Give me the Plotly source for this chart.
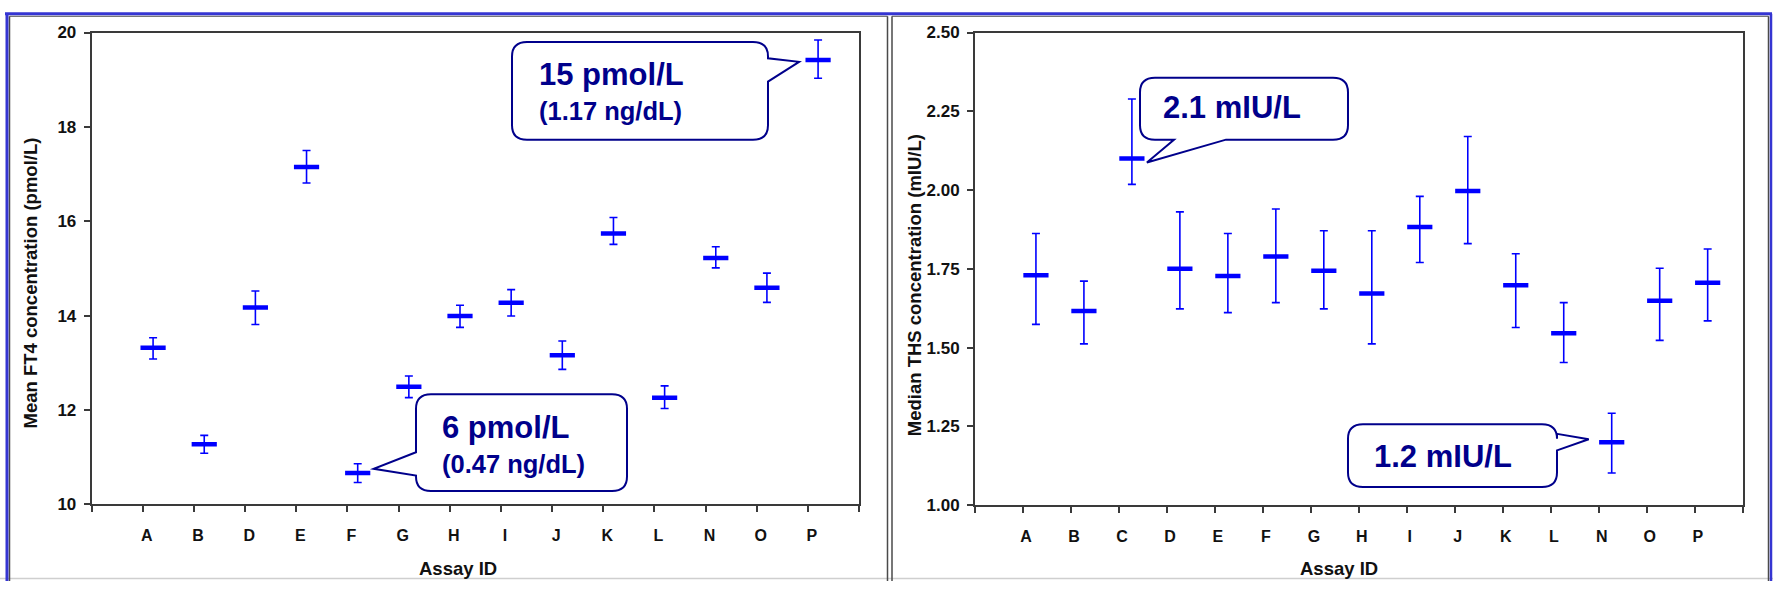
import plotly.graph_objects as go

W, H = 1773, 591

# ---- Panel 1: mean FT4 by assay (pmol/L), with error-bar limits ----
ft4_ids = ["A", "B", "D", "E", "F", "G", "H", "I", "J", "K", "L", "N", "O", "P"]
ft4_mean = [13.32, 11.27, 14.17, 17.15, 10.66, 12.49, 13.99, 14.27, 13.16, 15.74, 12.26, 15.22, 14.59, 19.42]
ft4_low = [13.08, 11.08, 13.81, 16.81, 10.46, 12.26, 13.75, 13.99, 12.86, 15.51, 12.03, 15.01, 14.28, 19.03]
ft4_high = [13.53, 11.46, 14.52, 17.50, 10.86, 12.72, 14.22, 14.55, 13.46, 16.08, 12.51, 15.46, 14.90, 19.84]

# ---- Panel 2: median TSH by assay (mIU/L), with error-bar limits ----
tsh_ids = ["A", "B", "C", "D", "E", "F", "G", "H", "I", "J", "K", "L", "N", "O", "P"]
tsh_median = [1.730, 1.616, 2.100, 1.750, 1.727, 1.789, 1.744, 1.672, 1.883, 1.997, 1.698, 1.546, 1.200, 1.649, 1.706]
tsh_low = [1.574, 1.512, 2.018, 1.623, 1.611, 1.643, 1.623, 1.512, 1.770, 1.830, 1.564, 1.453, 1.102, 1.523, 1.585]
tsh_high = [1.862, 1.711, 2.289, 1.931, 1.862, 1.940, 1.871, 1.871, 1.980, 2.170, 1.798, 1.643, 1.292, 1.752, 1.813]

ft4_ticks = [10, 12, 14, 16, 18, 20]
tsh_ticks = [1.00, 1.25, 1.50, 1.75, 2.00, 2.25, 2.50]

BLUE = "#0000FF"
NAVY = "#00008B"
AXIS = "#3a3a3a"
FONT = "Arial, Liberation Sans, sans-serif"

# plot-area boxes in pixels: left, right, bottom, top
LBOX = dict(x0=91.7, x1=859.0, yb=511.7, yt=24.3, xr=(0, len(ft4_ids) + 1), yr=(10, 20))
RBOX = dict(x0=975.0, x1=1742.7, yb=512.7, yt=24.3, xr=(0, len(tsh_ids) + 1), yr=(1.0, 2.5))
L_SHIFT = 0.20   # markers sit slightly right of their tick
R_SHIFT = 0.27


def px(x, y):
    return x / W, 1 - y / H


def data_px(box, xv, yv):
    fx = (xv - box["xr"][0]) / (box["xr"][1] - box["xr"][0])
    fy = (yv - box["yr"][0]) / (box["yr"][1] - box["yr"][0])
    return box["x0"] + fx * (box["x1"] - box["x0"]), box["yb"] + fy * (box["yt"] - box["yb"])


def callout_path(x0, y0, x1, y1, r, side, a, b, tip):
    pts = []

    def P(c, x, y):
        X, Y = px(x, y)
        pts.append(f"{c}{X:.5f},{Y:.5f}")

    def Q(cx, cy, x, y):
        CX, CY = px(cx, cy)
        X, Y = px(x, y)
        pts.append(f"Q{CX:.5f},{CY:.5f} {X:.5f},{Y:.5f}")

    P("M", x0 + r, y0)
    P("L", x1 - r, y0)
    Q(x1, y0, x1, y0 + r)
    if side == "right":
        P("L", x1, a)
        P("L", *tip)
        P("L", x1, b)
    P("L", x1, y1 - r)
    Q(x1, y1, x1 - r, y1)
    if side == "bottom":
        P("L", b, y1)
        P("L", *tip)
        P("L", a, y1)
    P("L", x0 + r, y1)
    Q(x0, y1, x0, y1 - r)
    if side == "left":
        P("L", x0, b)
        P("L", *tip)
        P("L", x0, a)
    P("L", x0, y0 + r)
    Q(x0, y0, x0 + r, y0)
    return " ".join(pts) + " Z"


fig = go.Figure()

fig.add_trace(go.Scatter(
    x=[i + 1 + L_SHIFT for i in range(len(ft4_ids))], y=ft4_mean,
    mode="markers", xaxis="x", yaxis="y", showlegend=False, hoverinfo="skip",
    marker=dict(symbol="line-ew", size=18, color=BLUE, line=dict(color=BLUE, width=4.5)),
    error_y=dict(type="data", symmetric=False,
                 array=[h - m for h, m in zip(ft4_high, ft4_mean)],
                 arrayminus=[m - l for m, l in zip(ft4_mean, ft4_low)],
                 color=BLUE, thickness=1.6, width=4),
))

fig.add_trace(go.Scatter(
    x=[i + 1 + R_SHIFT for i in range(len(tsh_ids))], y=tsh_median,
    mode="markers", xaxis="x2", yaxis="y2", showlegend=False, hoverinfo="skip",
    marker=dict(symbol="line-ew", size=18, color=BLUE, line=dict(color=BLUE, width=4.5)),
    error_y=dict(type="data", symmetric=False,
                 array=[h - m for h, m in zip(tsh_high, tsh_median)],
                 arrayminus=[m - l for m, l in zip(tsh_median, tsh_low)],
                 color=BLUE, thickness=1.6, width=4),
))

xtickfont = dict(family=FONT, size=16, color="#111111")
ytickfont = dict(family=FONT, size=17, color="#111111")


def xaxis_cfg(box, ids, shift):
    n = len(ids)
    return dict(
        domain=[box["x0"] / W, box["x1"] / W], range=list(box["xr"]),
        tickmode="array", tickvals=list(range(n + 2)), ticktext=[""] + [f"<b>{c}</b>" for c in ids] + [""],
        ticks="outside", ticklen=6, tickwidth=1.5, tickcolor=AXIS,
        showline=True, linecolor=AXIS, linewidth=2, mirror=True,
        showgrid=False, zeroline=False, tickfont=xtickfont,
        ticklabelstandoff=10, ticklabelshift=shift, fixedrange=True,
    )


def yaxis_cfg(box, vals, fmt, anchor):
    return dict(
        domain=[1 - box["yb"] / H, 1 - box["yt"] / H], range=list(box["yr"]),
        tickmode="array", tickvals=vals, ticktext=[f"<b>{v:{fmt}}</b>" for v in vals],
        ticks="outside", ticklen=6, tickwidth=1.5, tickcolor=AXIS,
        showline=True, linecolor=AXIS, linewidth=2, mirror=True,
        showgrid=False, zeroline=False, tickfont=ytickfont,
        ticklabelstandoff=4, anchor=anchor, fixedrange=True,
    )


fig.update_layout(
    width=W, height=H, margin=dict(l=0, r=0, t=0, b=0),
    paper_bgcolor="white", plot_bgcolor="white",
    xaxis=xaxis_cfg(LBOX, ft4_ids, 4) | dict(anchor="y"),
    yaxis=yaxis_cfg(LBOX, ft4_ticks, "d", "x"),
    xaxis2=xaxis_cfg(RBOX, tsh_ids, 3) | dict(anchor="y2"),
    yaxis2=yaxis_cfg(RBOX, tsh_ticks, ".2f", "x2"),
)

annotations = []


def text(x, y, s, size, color="#111111", angle=0, xanchor="left"):
    X, Y = px(x, y)
    annotations.append(dict(x=X, y=Y, xref="paper", yref="paper", text=s, showarrow=False,
                            xanchor=xanchor, yanchor="middle", textangle=angle,
                            font=dict(family=FONT, size=size, color=color)))


# axis titles
text(30.6, 283, "<b>Mean FT4 concentration (pmol/L)</b>", 18.5, angle=-90, xanchor="center")
text(458, 578, "<b>Assay ID</b>", 18.5, xanchor="center")
text(914.4, 285, "<b>Median THS concentration (mIU/L)</b>", 18.5, angle=-90, xanchor="center")
text(1339, 578, "<b>Assay ID</b>", 18.5, xanchor="center")

shapes = []


def callout(box, xv, yv, dx, dy, rect, side, a, b):
    mx, my = data_px(box, xv, yv)
    tip = (mx + dx, my + dy)
    shapes.append(dict(type="path", xref="paper", yref="paper",
                       path=callout_path(*rect, 15, side, a, b, tip),
                       line=dict(color=NAVY, width=2), fillcolor="white", layer="above"))


iP = ft4_ids.index("P")
iF = ft4_ids.index("F")
iC = tsh_ids.index("C")
iN = tsh_ids.index("N")

callout(LBOX, iP + 1 + L_SHIFT, ft4_mean[iP], -19, 2, (512, 34, 768, 135), "right", 51, 75)
text(537, 68, "<b>15 pmol/L</b>", 31, NAVY)
text(537, 105, "<b>(1.17 ng/dL)</b>", 25.5, NAVY)

callout(LBOX, iF + 1 + L_SHIFT, ft4_mean[iF], 16, -4.5, (416, 398, 627, 498), "left", 458, 482)
text(440, 432, "<b>6 pmol/L</b>", 31, NAVY)
text(440, 470, "<b>(0.47 ng/dL)</b>", 25.5, NAVY)

callout(RBOX, iC + 1 + R_SHIFT, tsh_median[iC], 15, 4, (1140, 71, 1348, 135), "bottom", 1174, 1226)
text(1161, 102, "<b>2.1 mIU/L</b>", 31, NAVY)

callout(RBOX, iN + 1 + R_SHIFT, tsh_median[iN], -23, -3, (1348, 429, 1557, 494), "right", 439, 456)
text(1372, 462, "<b>1.2 mIU/L</b>", 31, NAVY)


def line(x0, y0, x1, y1, color, width):
    X0, Y0 = px(x0, y0)
    X1, Y1 = px(x1, y1)
    shapes.append(dict(type="line", xref="paper", yref="paper", x0=X0, y0=Y0, x1=X1, y1=Y1,
                       line=dict(color=color, width=width), layer="above"))


# panel frames
FRAME_BLUE = "#3535D2"
FRAME_GRAY = "#4a4a4a"
line(0, 588.5, W, 588.5, "#cfcfcf", 1.5)
for x0, x1 in [(9.5, 887.5), (892, 1768.5)]:
    line(x0, 7.5, x1, 7.5, FRAME_GRAY, 1.2)
    line(x0, 7.5, x0, H, FRAME_GRAY, 1.5)
    line(x1, 7.5, x1, H, FRAME_GRAY, 1.5)
line(5, 5, 1772, 5, FRAME_BLUE, 3)
line(7, 5, 7, H, FRAME_BLUE, 3)
line(1771, 5, 1771, H, FRAME_BLUE, 2.5)

fig.update_layout(annotations=annotations, shapes=shapes)

fig.write_html("out.html")
